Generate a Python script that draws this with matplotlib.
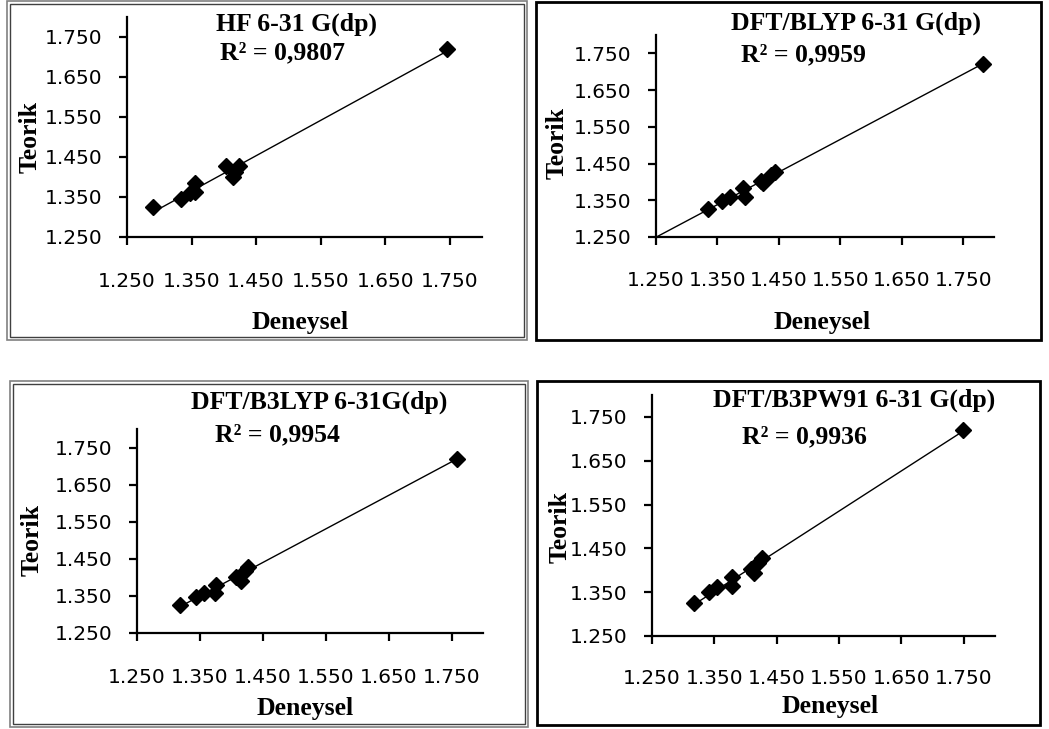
import numpy as np
import matplotlib
matplotlib.use("Agg")
import matplotlib.pyplot as plt
from matplotlib.patches import Rectangle

W, H = 1049, 729

# data (Deneysel -> x, Teorik -> y)
titles = ["HF 6-31 G(dp)", "DFT/BLYP 6-31 G(dp)",
          "DFT/B3LYP 6-31G(dp)", "DFT/B3PW91 6-31 G(dp)"]
r2_labels = ["R² = 0,9807", "R² = 0,9959", "R² = 0,9954", "R² = 0,9936"]

hf_x = [1.291, 1.333, 1.347, 1.355, 1.355, 1.403, 1.414, 1.417, 1.424, 1.746]
hf_y = [1.325, 1.346, 1.359, 1.363, 1.384, 1.428, 1.400, 1.412, 1.428, 1.720]

blyp_x = [1.334, 1.358, 1.370, 1.392, 1.395, 1.421, 1.424, 1.437, 1.444, 1.782]
blyp_y = [1.326, 1.347, 1.360, 1.383, 1.360, 1.402, 1.396, 1.419, 1.428, 1.722]

b3lyp_x = [1.318, 1.344, 1.356, 1.376, 1.374, 1.408, 1.415, 1.421, 1.426, 1.758]
b3lyp_y = [1.325, 1.348, 1.358, 1.380, 1.358, 1.401, 1.391, 1.418, 1.427, 1.720]

b3pw_x = [1.317, 1.342, 1.354, 1.378, 1.378, 1.408, 1.413, 1.420, 1.427, 1.749]
b3pw_y = [1.326, 1.350, 1.361, 1.384, 1.363, 1.402, 1.394, 1.417, 1.429, 1.720]

xs = [hf_x, blyp_x, b3lyp_x, b3pw_x]
ys = [hf_y, blyp_y, b3lyp_y, b3pw_y]

ticks = [1.25, 1.35, 1.45, 1.55, 1.65, 1.75]

# layout in pixels: axes (left, right, top, bottom)
axes_px = [(127, 482, 17, 237), (656, 994, 35, 237),
           (137, 483, 429, 633), (652, 995, 395, 636)]
xpad = [19.3, 18.6, 19.3, 17.9]
title_px = [(296, 24), (856, 23), (319, 402), (854, 400)]
r2_px = [(282, 53), (803, 55), (277, 435), (804, 437)]
xlab_px = [(300, 323), (822, 322), (305, 708), (830, 707)]
ylab_px = [(30, 137), (557, 143), (32, 540), (560, 527)]
boxes_px = [(7, 527, 1, 340), (536, 1041, 2, 340),
            (10, 528, 381, 727), (537, 1040, 381, 725)]
trend_from_origin = [False, True, False, False]

serif = dict(family="Liberation Serif", weight="bold", size=18.5)


def fx(x):
    return x / W


def fy(y):
    return 1 - y / H


fig = plt.figure(figsize=(W / 100, H / 100), dpi=100)

# panel frames
for i, (l, r, t, b) in enumerate(boxes_px):
    if i in (0, 2):
        fig.patches.append(Rectangle((fx(l), fy(b)), fx(r - l), (b - t) / H,
                                     transform=fig.transFigure, fill=False,
                                     edgecolor="#808080", lw=1.2))
        fig.patches.append(Rectangle((fx(l + 3), fy(b - 3)), fx(r - l - 6), (b - t - 6) / H,
                                     transform=fig.transFigure, fill=False,
                                     edgecolor="#404040", lw=1.0))
    else:
        fig.patches.append(Rectangle((fx(l), fy(b)), fx(r - l), (b - t) / H,
                                     transform=fig.transFigure, fill=False,
                                     edgecolor="black", lw=2.0))

for i in range(4):
    l, r, t, b = axes_px[i]
    ax = fig.add_axes([fx(l), fy(b), fx(r - l), (b - t) / H])
    x = np.array(xs[i])
    y = np.array(ys[i])
    ax.plot(x, y, "D", color="black", markersize=8, zorder=3)

    k, c = np.polyfit(x, y, 1)
    x0 = 1.25 if trend_from_origin[i] else x.min()
    xl = np.array([x0, x.max()])
    ax.plot(xl, k * xl + c, color="black", lw=1.0, zorder=2)

    ax.set_xlim(1.25, 1.8)
    ax.set_ylim(1.25, 1.8)
    ax.set_xticks(ticks)
    ax.set_yticks(ticks)
    ax.set_xticklabels([f"{v:.3f}" for v in ticks])
    ax.set_yticklabels([f"{v:.3f}" for v in ticks])
    for s in ["top", "right"]:
        ax.spines[s].set_visible(False)
    for s in ["left", "bottom"]:
        ax.spines[s].set_linewidth(1.6)
    ax.tick_params(axis="both", direction="out", length=5.8, width=1.6,
                   labelsize=14.5)
    ax.tick_params(axis="x", pad=xpad[i])
    ax.tick_params(axis="y", pad=12)
    for lab in ax.get_xticklabels() + ax.get_yticklabels():
        lab.set_family("DejaVu Sans")

    fig.text(fx(title_px[i][0]), fy(title_px[i][1]), titles[i],
             ha="center", va="center", **serif)
    fig.text(fx(r2_px[i][0]), fy(r2_px[i][1]), r2_labels[i],
             ha="center", va="center", **serif)
    fig.text(fx(xlab_px[i][0]), fy(xlab_px[i][1]), "Deneysel",
             ha="center", va="center", **serif)
    fig.text(fx(ylab_px[i][0]), fy(ylab_px[i][1]), "Teorik", rotation=90,
             ha="center", va="center", **serif)

fig.savefig("out.png", dpi=100)
